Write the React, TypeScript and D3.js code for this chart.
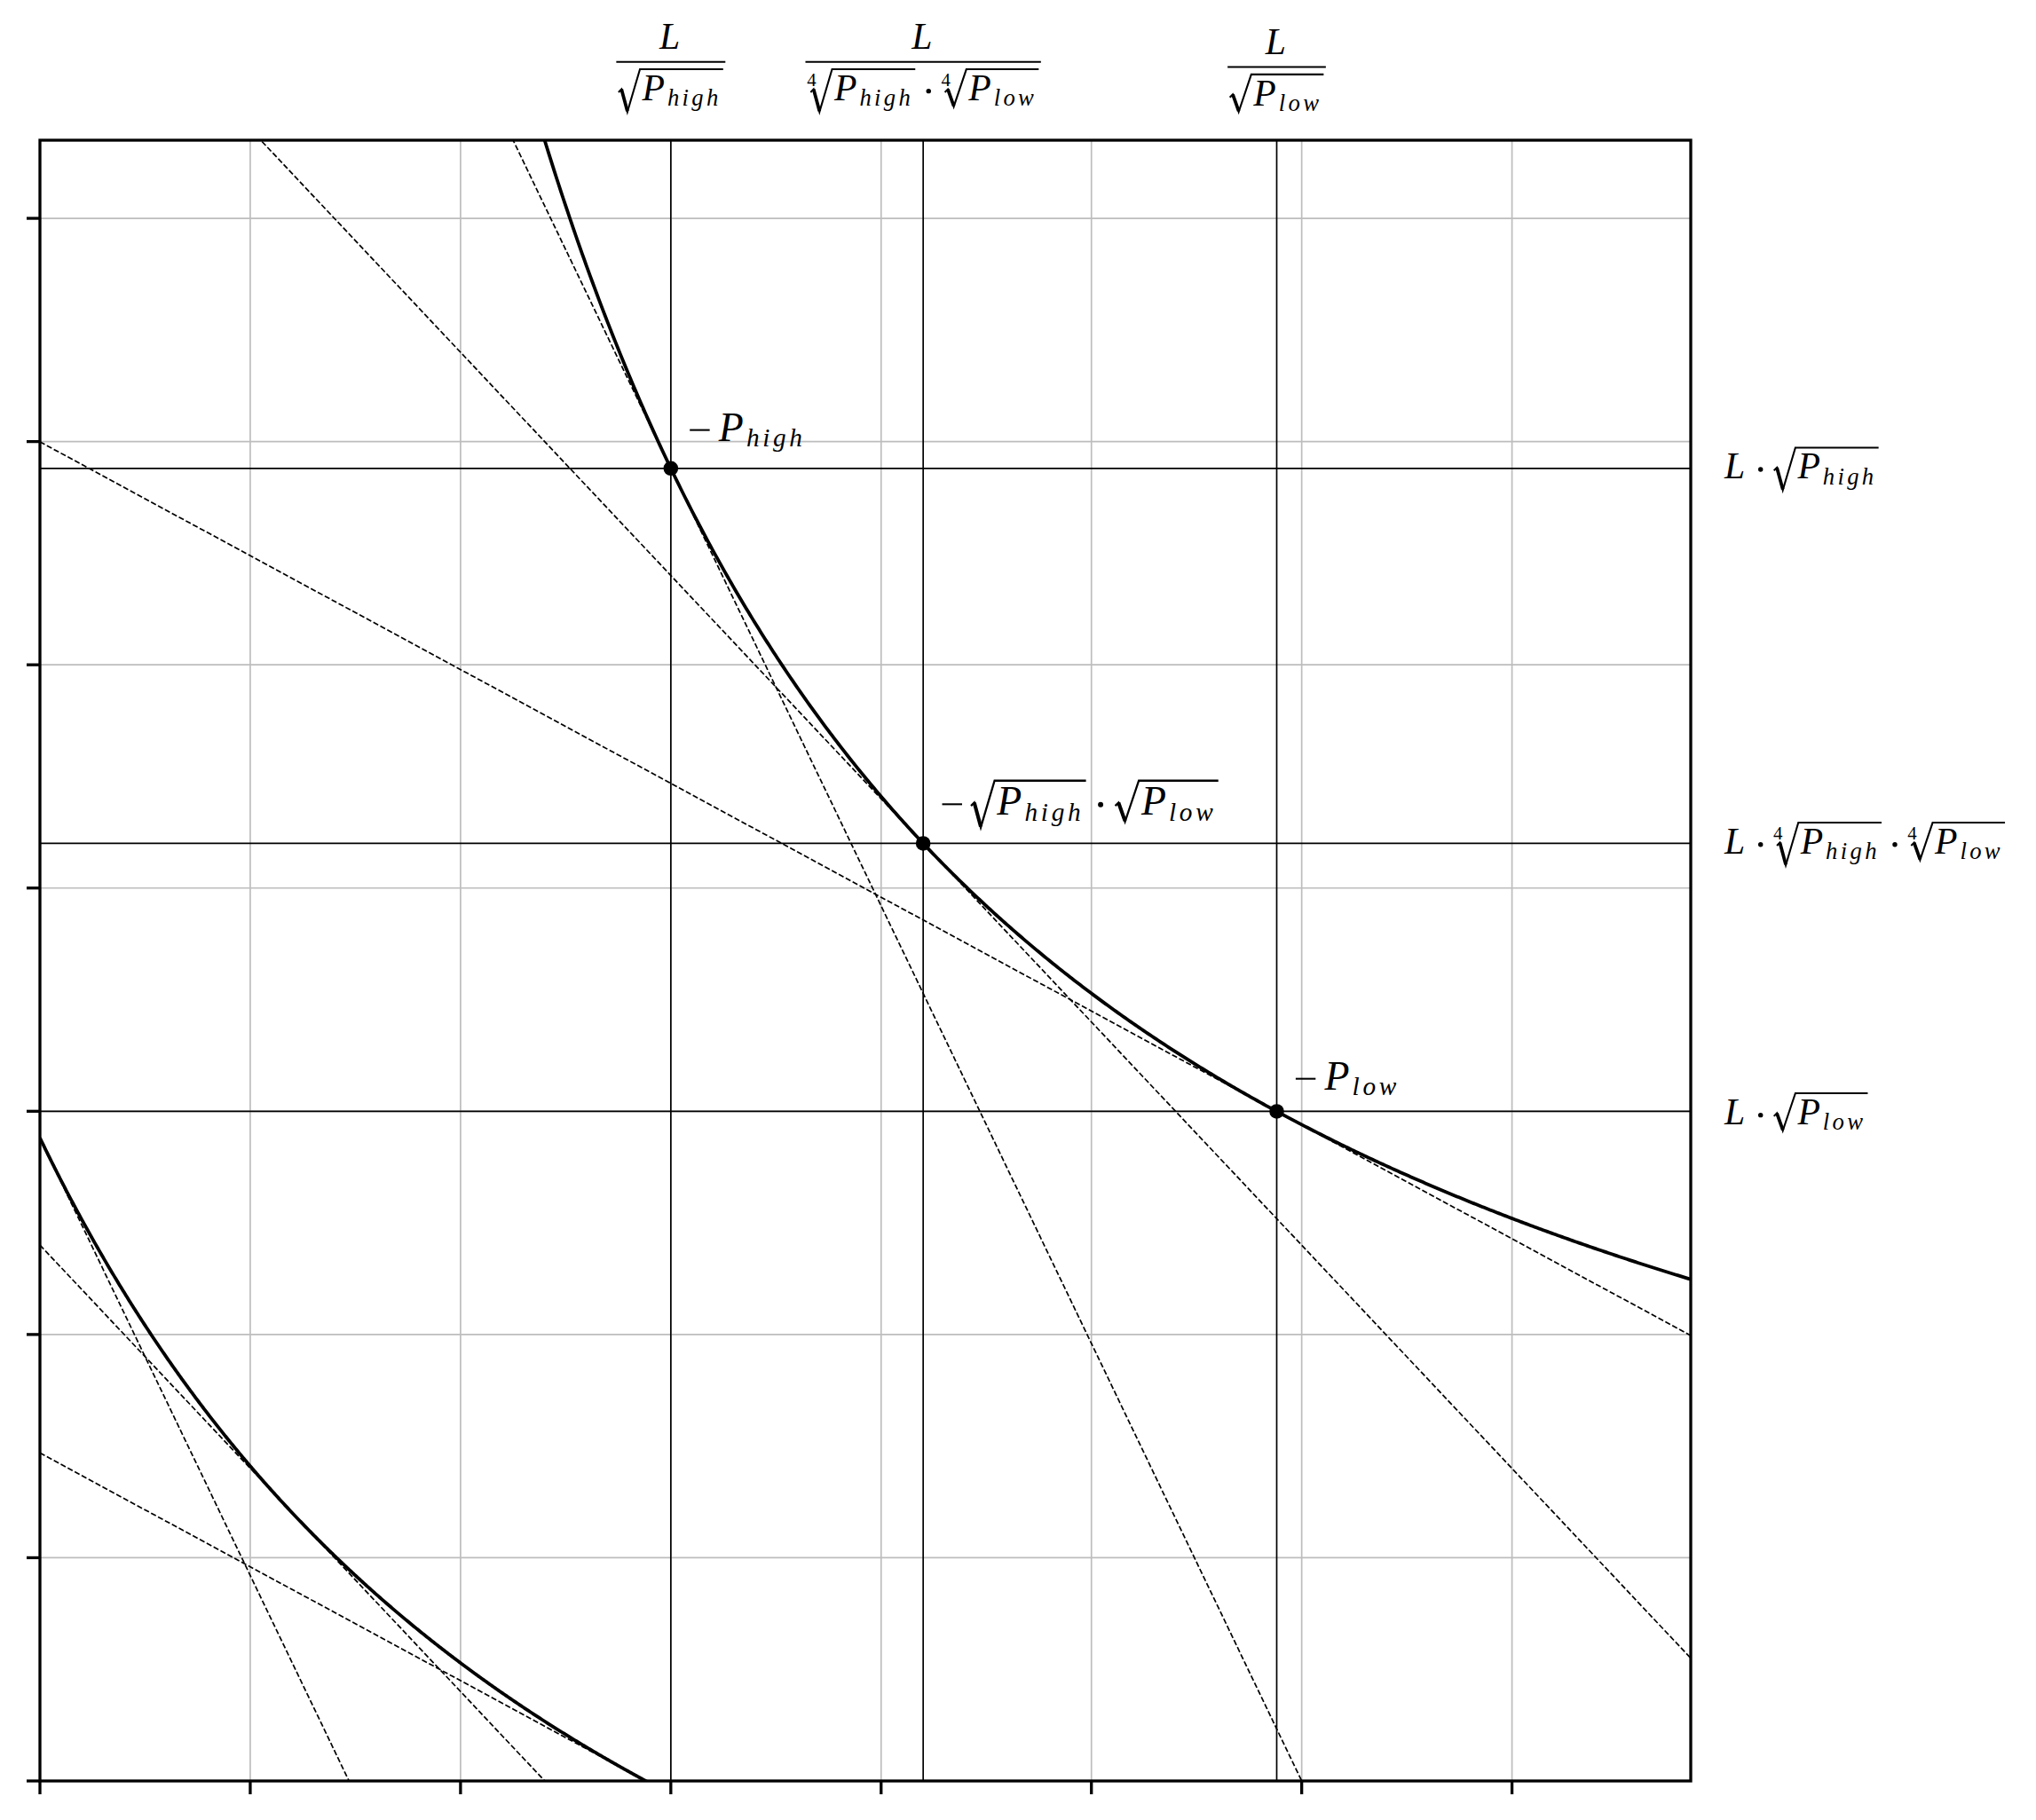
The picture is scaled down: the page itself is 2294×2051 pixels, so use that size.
import { useEffect, useRef } from 'react';
import * as d3 from 'd3';

const WIDTH = 2294;
const HEIGHT = 2051;

// values
const liquidity = 4.2;
const priceKeys = ['high', 'mid', 'low'];
const priceValues = [1.96, 1.0, 0.51];
const xTicks = [0, 1, 2, 3, 4, 5, 6, 7];
const yTicks = [0, 1, 2, 3, 4, 5, 6, 7];
const xLimits = [0, 7.85];
const yLimits = [0, 7.35];

const MATH_FONT = "'Liberation Serif', 'Times New Roman', Times, serif";

type Tok =
  | { k: 'var'; base: string; sub?: string }
  | { k: 'op'; op: 'cdot' | 'minus' }
  | { k: 'sqrt'; body: Tok[]; index?: string };
type Box = { w: number; top: number; bottom: number };

const L: Tok = { k: 'var', base: 'L' };
const Ph: Tok = { k: 'var', base: 'P', sub: 'high' };
const Pl: Tok = { k: 'var', base: 'P', sub: 'low' };
const cdot: Tok = { k: 'op', op: 'cdot' };
const minus: Tok = { k: 'op', op: 'minus' };
const root = (body: Tok[], index?: string): Tok => ({ k: 'sqrt', body, index });

// labels over the vertical lines (fractions L / denominator)
const topDenominators: Tok[][] = [
  [root([Ph])],
  [root([Ph], '4'), cdot, root([Pl], '4')],
  [root([Pl])],
];
// labels right of the horizontal lines
const rightLabels: Tok[][] = [
  [L, cdot, root([Ph])],
  [L, cdot, root([Ph], '4'), cdot, root([Pl], '4')],
  [L, cdot, root([Pl])],
];
// labels next to the marked points
const pointLabels: Tok[][] = [
  [minus, Ph],
  [minus, root([Ph]), cdot, root([Pl])],
  [minus, Pl],
];

function textRun(g: any, s: string, size: number, x: number, y: number, italic: boolean, extra: number) {
  const t = g.append('text')
    .attr('x', x)
    .attr('y', y)
    .attr('font-family', MATH_FONT)
    .attr('font-size', size)
    .attr('font-style', italic ? 'italic' : 'normal')
    .attr('fill', '#000')
    .text(s);
  const natural = (t.node() as SVGTextElement).getComputedTextLength();
  if (extra) t.style('letter-spacing', `${extra}px`);
  return natural + extra * s.length;
}

function drawSeq(g: any, toks: Tok[], F: number): Box {
  let x = 0;
  let top = 0;
  let bottom = 0;
  toks.forEach(t => {
    const part = g.append('g').attr('transform', `translate(${x},0)`);
    const b = drawTok(part, t, F);
    x += b.w;
    top = Math.min(top, b.top);
    bottom = Math.max(bottom, b.bottom);
  });
  return { w: x, top, bottom };
}

function drawTok(g: any, t: Tok, F: number): Box {
  if (t.k === 'var') {
    const adv = textRun(g, t.base, F, 0, 0, true, 0) + (t.base === 'P' ? 0.1 * F : 0.06 * F);
    if (!t.sub) return { w: adv, top: -0.68 * F, bottom: 0 };
    const shift = 0.15 * F;
    const ws = textRun(g, t.sub, 0.64 * F, adv - 0.03 * F, shift, true, 0.08 * F);
    const desc = /[gjpqy]/.test(t.sub) ? 0.14 * F : 0;
    return { w: adv - 0.03 * F + ws, top: -0.68 * F, bottom: shift + desc };
  }
  if (t.k === 'op') {
    if (t.op === 'cdot') {
      const sp = 0.22 * F;
      g.append('circle').attr('cx', sp + 0.14 * F).attr('cy', -0.25 * F).attr('r', 0.065 * F).attr('fill', '#000');
      return { w: 2 * sp + 0.28 * F, top: 0, bottom: 0 };
    }
    g.append('line')
      .attr('x1', 0.03 * F).attr('x2', 0.52 * F)
      .attr('y1', -0.26 * F).attr('y2', -0.26 * F)
      .attr('stroke', '#000').attr('stroke-width', 0.045 * F);
    return { w: 0.74 * F, top: 0, bottom: 0 };
  }
  // radical
  const x0 = t.index ? 0.08 * F : 0;
  const R = 0.58 * F;
  const inner = g.append('g').attr('transform', `translate(${x0 + R + 0.06 * F},0)`);
  const b = drawSeq(inner, t.body, F);
  const top = -0.84 * F;
  const bot = Math.max(b.bottom, 0.12 * F) + 0.02 * F;
  const vEnd = x0 + R + 0.06 * F + b.w + 0.05 * F;
  if (t.index) textRun(g, t.index, 0.5 * F, -0.02 * F, -0.38 * F, false, 0);
  g.append('path')
    .attr('d', `M${x0},${-0.22 * F}L${x0 + 0.08 * F},${-0.3 * F}L${x0 + 0.24 * F},${bot}L${x0 + R},${top}L${vEnd},${top}`)
    .attr('fill', 'none').attr('stroke', '#000').attr('stroke-width', 0.05 * F)
    .attr('stroke-linejoin', 'miter');
  g.append('path')
    .attr('d', `M${x0 + 0.08 * F},${-0.3 * F}L${x0 + 0.24 * F},${bot - 0.02 * F}`)
    .attr('stroke', '#000').attr('stroke-width', 0.09 * F);
  return { w: vEnd, top: top - 0.03 * F, bottom: bot };
}

function drawFrac(g: any, num: Tok[], den: Tok[], F: number): Box {
  const ng = g.append('g');
  const nb = drawSeq(ng, num, F);
  const dg = g.append('g');
  const db = drawSeq(dg, den, F);
  const pad = 0.06 * F;
  const W = Math.max(nb.w, db.w) + 2 * pad;
  const numBase = -0.36 * F;
  const denBase = 0.17 * F - db.top;
  ng.attr('transform', `translate(${(W - nb.w) / 2},${numBase})`);
  dg.attr('transform', `translate(${(W - db.w) / 2},${denBase})`);
  g.append('line').attr('x1', 0).attr('x2', W).attr('y1', 0).attr('y2', 0)
    .attr('stroke', '#000').attr('stroke-width', 0.05 * F);
  return { w: W, top: numBase + nb.top, bottom: denBase + db.bottom };
}

export default function App() {
  const svgRef = useRef<SVGSVGElement>(null);

  useEffect(() => {
    if (!svgRef.current) return;
    const svg = d3.select(svgRef.current);
    svg.selectAll('*').remove();

    const margin = { top: 158, right: 389, bottom: 44, left: 45 };
    const x = d3.scaleLinear().domain(xLimits).range([margin.left, WIDTH - margin.right]);
    const y = d3.scaleLinear().domain(yLimits).range([HEIGHT - margin.bottom, margin.top]);
    const [x0, x1] = x.range();
    const [y0, y1] = y.range();

    svg.append('rect').attr('width', WIDTH).attr('height', HEIGHT).attr('fill', '#fff');

    svg.append('clipPath').attr('id', 'plot-clip')
      .append('rect').attr('x', x0).attr('y', y1).attr('width', x1 - x0).attr('height', y0 - y1);

    const plot = svg.append('g').attr('clip-path', 'url(#plot-clip)');

    // grid
    plot.append('g').selectAll('line').data(xTicks).join('line')
      .attr('x1', d => x(d)).attr('x2', d => x(d)).attr('y1', y0).attr('y2', y1)
      .attr('stroke', '#bdbdbd').attr('stroke-width', 1.7);
    plot.append('g').selectAll('line').data(yTicks).join('line')
      .attr('x1', x0).attr('x2', x1).attr('y1', d => y(d)).attr('y2', d => y(d))
      .attr('stroke', '#bdbdbd').attr('stroke-width', 1.7);

    const L2 = liquidity * liquidity;
    const xa = liquidity / Math.sqrt(priceValues[0]);
    const yb = liquidity * Math.sqrt(priceValues[2]);
    const pts = priceValues.map((p, i) => ({
      key: priceKeys[i],
      p,
      vx: liquidity / Math.sqrt(p),
      vy: liquidity * Math.sqrt(p),
    }));

    // tangent lines, virtual and real curves
    const tangents = pts.flatMap(d => [
      { p: d.p, px: d.vx, py: d.vy },
      { p: d.p, px: d.vx - xa, py: d.vy - yb },
    ]);
    plot.append('g').selectAll('line').data(tangents).join('line')
      .attr('x1', x(xLimits[0])).attr('y1', d => y(d.py - d.p * (xLimits[0] - d.px)))
      .attr('x2', x(xLimits[1])).attr('y2', d => y(d.py - d.p * (xLimits[1] - d.px)))
      .attr('stroke', '#000').attr('stroke-width', 1.7).attr('stroke-dasharray', '6.2 2.7');

    // guide lines through the marked points
    plot.append('g').selectAll('line').data(pts).join('line')
      .attr('x1', d => x(d.vx)).attr('x2', d => x(d.vx)).attr('y1', y0).attr('y2', y1)
      .attr('stroke', '#000').attr('stroke-width', 1.7);
    plot.append('g').selectAll('line').data(pts).join('line')
      .attr('x1', x0).attr('x2', x1).attr('y1', d => y(d.vy)).attr('y2', d => y(d.vy))
      .attr('stroke', '#000').attr('stroke-width', 1.7);

    // curves
    const line = d3.line<[number, number]>().x(d => x(d[0])).y(d => y(d[1]));
    const vStart = L2 / (yLimits[1] + 0.1);
    const virtualCurve = d3.range(vStart, xLimits[1] + 0.01, 0.01).map(v => [v, L2 / v] as [number, number]);
    const xEnd = liquidity / Math.sqrt(priceValues[2]) - xa;
    const realCurve = d3.range(0, xEnd + 0.005, 0.005).map(v => [v, L2 / (v + xa) - yb] as [number, number]);
    [virtualCurve, realCurve].forEach(c => {
      plot.append('path').attr('d', line(c)).attr('fill', 'none')
        .attr('stroke', '#000').attr('stroke-width', 3.8);
    });

    // points
    plot.append('g').selectAll('circle').data(pts).join('circle')
      .attr('cx', d => x(d.vx)).attr('cy', d => y(d.vy)).attr('r', 8.3).attr('fill', '#000');

    // spines and ticks
    svg.append('rect').attr('x', x0).attr('y', y1).attr('width', x1 - x0).attr('height', y0 - y1)
      .attr('fill', 'none').attr('stroke', '#000').attr('stroke-width', 3.3);
    const bottomAxis = svg.append('g').attr('transform', `translate(0,${y0})`)
      .call(d3.axisBottom(x).tickValues(xTicks).tickFormat(() => '').tickSize(15).tickSizeOuter(0).offset(0));
    const leftAxis = svg.append('g').attr('transform', `translate(${x0},0)`)
      .call(d3.axisLeft(y).tickValues(yTicks).tickFormat(() => '').tickSize(15).tickSizeOuter(0).offset(0));
    [bottomAxis, leftAxis].forEach(a => {
      a.select('.domain').remove();
      a.selectAll('.tick line').attr('stroke', '#000').attr('stroke-width', 3.3);
    });

    const F = 41.7;
    const FA = 45.8;

    // fractions above the plot
    pts.forEach((d, i) => {
      const g = svg.append('g');
      const b = drawFrac(g, [L], topDenominators[i], F);
      g.attr('transform', `translate(${x(d.vx) - b.w / 2},${126 - b.bottom})`);
    });

    // labels to the right of the plot
    pts.forEach((d, i) => {
      const g = svg.append('g');
      const b = drawSeq(g, rightLabels[i], F);
      g.attr('transform', `translate(${x1 + 38},${y(d.vy) - (b.top + b.bottom) / 2})`);
    });

    // labels at the points
    pts.forEach((d, i) => {
      const g = svg.append('g');
      const b = drawSeq(g, pointLabels[i], FA);
      g.attr('transform', `translate(${x(d.vx) + 20},${y(d.vy) - 18 - b.bottom})`);
    });
  }, []);

  return (
    <svg
      ref={svgRef}
      width={WIDTH}
      height={HEIGHT}
      style={{ position: 'absolute', left: 0, top: 0, display: 'block' }}
    />
  );
}
